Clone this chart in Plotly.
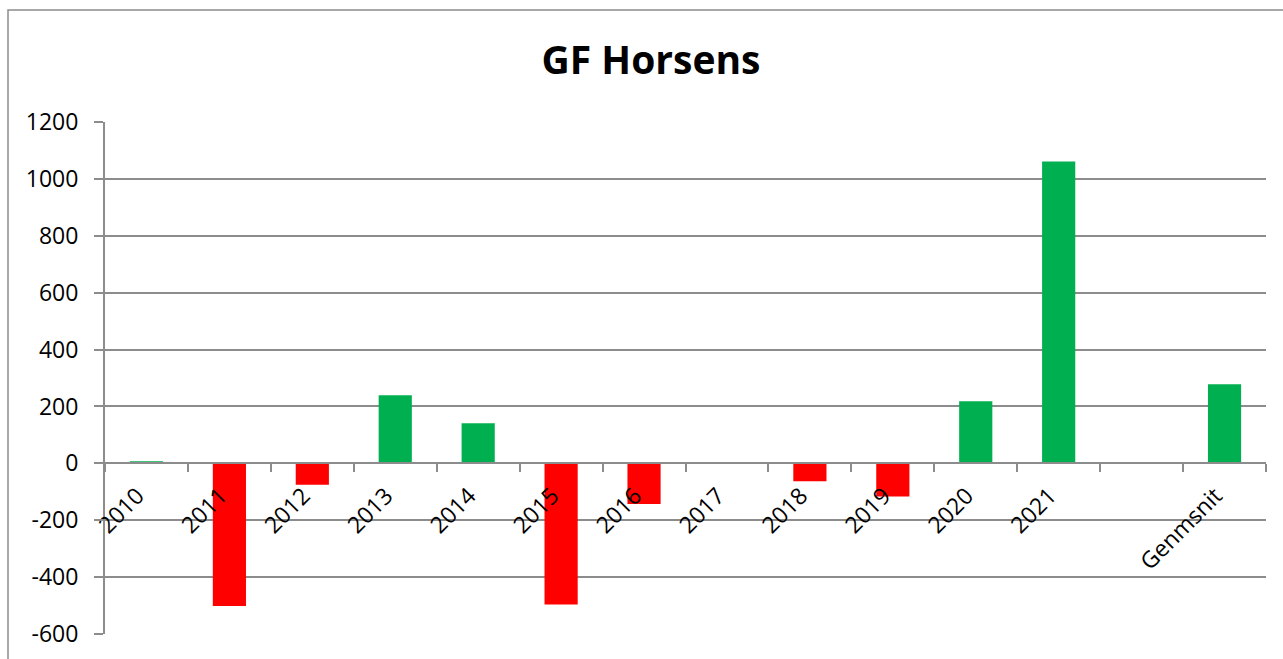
import plotly.graph_objects as go

categories = ["2010", "2011", "2012", "2013", "2014", "2015", "2016", "2017",
              "2018", "2019", "2020", "2021", " ", "Genmsnit"]
values = [7, -502, -75, 239, 141, -496, -143, 0, -63, -117, 218, 1061, None, 278]
y_ticks = [-600, -400, -200, 0, 200, 400, 600, 800, 1000, 1200]

GREEN = "#00B050"
RED = "#FF0000"
GRID = "#8c8c8c"
colors = [GREEN if (v is not None and v >= 0) else RED for v in values]

W, H = 1283, 659
ml, mr, mt, mb = 105, 17, 122, 25
pw = W - ml - mr
ph = H - mt - mb

fig = go.Figure(go.Bar(x=categories, y=values, marker=dict(color=colors, line=dict(width=0)),
                       hoverinfo="x+y"))

fig.update_layout(
    width=W, height=H,
    margin=dict(l=ml, r=mr, t=mt, b=mb, pad=0, autoexpand=False),
    paper_bgcolor="white", plot_bgcolor="white",
    font=dict(family="Open Sans", color="black", size=23),
    showlegend=False,
    bargap=0.6,
    title=dict(text="<b>GF Horsens</b>", x=651 / W, xref="container", xanchor="center",
               y=1 - 60 / H, yref="container", yanchor="middle",
               font=dict(family="Open Sans", size=39, color="black"), automargin=False),
    xaxis=dict(type="category", range=[-0.5, len(categories) - 0.5],
               anchor="free", position=600 / 1800, automargin=False,
               showline=True, linecolor=GRID, linewidth=2,
               ticks="outside", ticklen=8, tickwidth=2, tickcolor=GRID,
               tickson="boundaries", tickangle=-45, showgrid=False,
               ticklabelstandoff=9, ticklabelshift=-9,
               tickfont=dict(size=23)),
    yaxis=dict(range=[-600, 1200], tickvals=y_ticks, ticktext=[str(t) for t in y_ticks],
               automargin=False,
               showline=True, linecolor=GRID, linewidth=2,
               ticks="outside", ticklen=9, tickwidth=2, tickcolor=GRID,
               ticklabelstandoff=11,
               showgrid=True, gridcolor=GRID, gridwidth=2, zeroline=False,
               tickfont=dict(size=23)),
    shapes=[dict(type="rect", xref="paper", yref="paper",
                 x0=(8 - ml) / pw, x1=1.3, y0=-0.4, y1=(ph + mt - 10) / ph,
                 line=dict(color=GRID, width=1.5), layer="below")],
)

fig.write_html("out.html", config={"displayModeBar": False},
               post_script="document.body.style.margin='0px';")
